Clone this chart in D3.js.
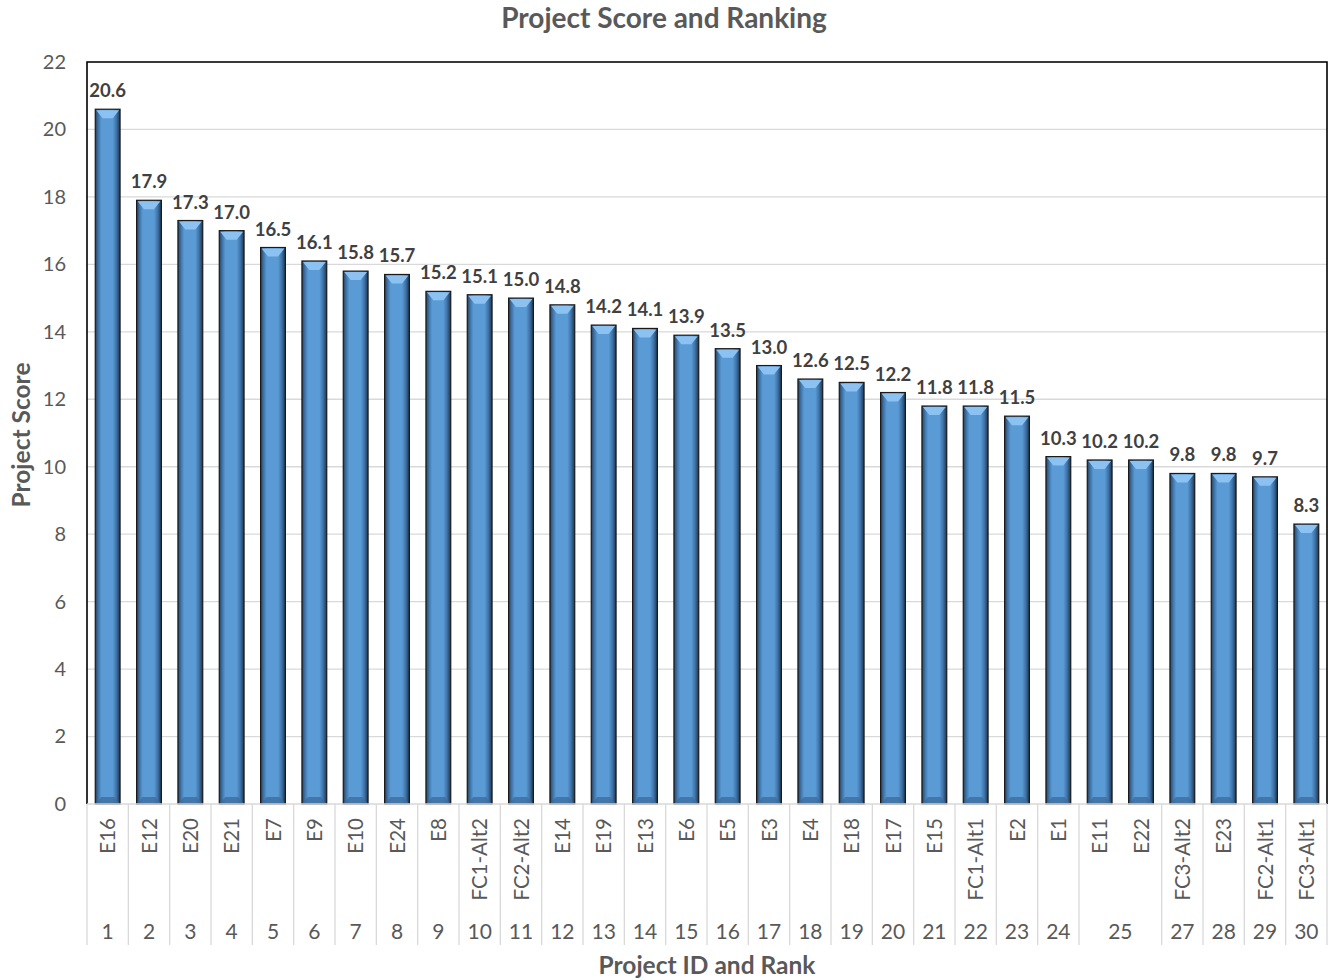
<!DOCTYPE html>
<html><head><meta charset="utf-8">
<script src="https://cdn.jsdelivr.net/npm/d3@7"></script>
<style>body{margin:0;background:#fff;font-family:Lato,"Open Sans",sans-serif}</style>
</head><body><svg id="c" width="1330" height="980"></svg>
<script>
const projectIds = ["E16","E12","E20","E21","E7","E9","E10","E24","E8","FC1-Alt2","FC2-Alt2","E14","E19","E13","E6","E5","E3","E4","E18","E17","E15","FC1-Alt1","E2","E1","E11","E22","FC3-Alt2","E23","FC2-Alt1","FC3-Alt1"];
const ranks = [1,2,3,4,5,6,7,8,9,10,11,12,13,14,15,16,17,18,19,20,21,22,23,24,25,25,27,28,29,30];
const scores = [20.6,17.9,17.3,17.0,16.5,16.1,15.8,15.7,15.2,15.1,15.0,14.8,14.2,14.1,13.9,13.5,13.0,12.6,12.5,12.2,11.8,11.8,11.5,10.3,10.2,10.2,9.8,9.8,9.7,8.3];
const yTicks = [0,2,4,6,8,10,12,14,16,18,20,22];

const svg = d3.select("#c");
const L=87, R=1327, T=62, B=804;
const x = d3.scaleBand().domain(d3.range(projectIds.length)).range([L,R]).paddingInner(0.4).paddingOuter(0.2);
const y = d3.scaleLinear().domain([0,22]).range([B,T]);
const step = x.step();

const defs = svg.append("defs");
const g1 = defs.append("linearGradient").attr("id","barg").attr("x1","0").attr("x2","1").attr("y1","0").attr("y2","0");
[[0,"#27425e"],[0.12,"#3f73a8"],[0.25,"#5b9bd5"],[0.7,"#5b9bd5"],[0.85,"#3f73a8"],[1,"#1d3550"]].forEach(s=>g1.append("stop").attr("offset",s[0]).attr("stop-color",s[1]));

// gridlines
svg.append("g").selectAll("line").data(yTicks.filter(d=>d>0)).join("line")
  .attr("x1",L).attr("x2",R).attr("y1",d=>y(d)).attr("y2",d=>y(d))
  .attr("stroke","#d9d9d9").attr("stroke-width",1.3);

// y axis labels
const yAxis = d3.axisLeft(y).tickValues(yTicks).tickSize(0).tickPadding(21);
const ya = svg.append("g").attr("transform",`translate(${L},0)`).call(yAxis);
ya.select(".domain").remove();
ya.selectAll("text").attr("font-family","Lato,'Open Sans',sans-serif").attr("font-size",20).attr("fill","#595959");

// bars
const bars = svg.append("g").selectAll("g").data(scores).join("g");
bars.append("rect").attr("x",(d,i)=>x(i)).attr("y",d=>y(d)).attr("width",x.bandwidth()).attr("height",d=>B-y(d))
  .attr("fill","url(#barg)").attr("stroke","#1a1a1a").attr("stroke-width",1.2);
// top bevel
bars.append("path").attr("d",(d,i)=>{const x0=x(i)+1,x1=x(i)+x.bandwidth()-1,yt=y(d)+1,w=x1-x0;
  return `M${x0},${yt}L${x1},${yt}L${x0+w*0.72},${yt+8}L${x0+w*0.28},${yt+8}Z`;}).attr("fill","#8cc2f2");
// bottom bevel
bars.append("path").attr("d",(d,i)=>{const x0=x(i)+1,x1=x(i)+x.bandwidth()-1,yb=B-1,w=x1-x0;
  return `M${x0},${yb}L${x1},${yb}L${x0+w*0.78},${yb-6}L${x0+w*0.22},${yb-6}Z`;}).attr("fill","#3d6d9e").attr("opacity",0.8);
// value labels
bars.append("text").attr("x",(d,i)=>x(i)+x.bandwidth()/2).attr("y",d=>y(d)-12)
  .attr("text-anchor","middle").attr("font-size",18.5).attr("font-weight","bold").attr("fill","#404040")
  .text(d=>d.toFixed(1));

// frame
svg.append("path").attr("d",`M${L},${B}L${L},${T}L${R},${T}L${R},${B}`).attr("fill","none").attr("stroke","#000").attr("stroke-width",1.6);
svg.append("line").attr("x1",L).attr("x2",R).attr("y1",B).attr("y2",B).attr("stroke","#d9d9d9").attr("stroke-width",1.5);

// category separators: skip between tied ranks
const axisBottom = 945;
const seps = [];
for(let i=0;i<=projectIds.length;i++){
  if(i>0 && i<projectIds.length && ranks[i]===ranks[i-1]) continue;
  seps.push(L + i*step);
}
svg.append("g").selectAll("line").data(seps).join("line")
  .attr("x1",d=>d).attr("x2",d=>d).attr("y1",B).attr("y2",axisBottom)
  .attr("stroke","#d9d9d9").attr("stroke-width",1.3);

// project id labels
svg.append("g").selectAll("text").data(projectIds).join("text")
  .attr("transform",(d,i)=>`translate(${x(i)+x.bandwidth()/2+7.5},${818}) rotate(-90)`)
  .attr("text-anchor","end").attr("font-size",20.5).attr("fill","#595959").text(d=>d);

// rank labels (grouped)
const groups = d3.groups(ranks.map((r,i)=>({r,i})), d=>d.r);
svg.append("g").selectAll("text").data(groups).join("text")
  .attr("x",d=>{const is=d[1].map(e=>e.i);return L+(d3.min(is)+d3.max(is)+1)/2*step;})
  .attr("y",939).attr("text-anchor","middle").attr("font-size",21).attr("fill","#595959").text(d=>d[0]);

// titles
svg.append("text").attr("x",664).attr("y",28).attr("text-anchor","middle").attr("font-size",28).attr("font-weight","bold").attr("fill","#595959").text("Project Score and Ranking");
svg.append("text").attr("x",707).attr("y",974).attr("text-anchor","middle").attr("font-size",24.5).attr("font-weight","bold").attr("fill","#595959").text("Project ID and Rank");
svg.append("text").attr("transform","translate(30,435) rotate(-90)").attr("text-anchor","middle").attr("font-size",24.5).attr("font-weight","bold").attr("fill","#595959").text("Project Score");
</script></body></html>
